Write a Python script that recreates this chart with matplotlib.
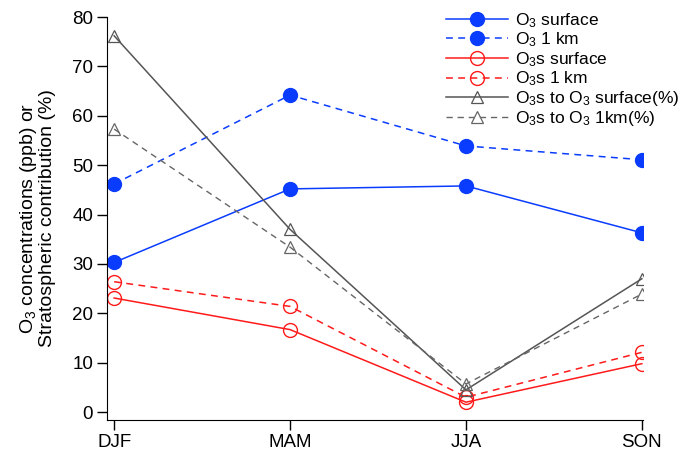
import numpy as np
import matplotlib
matplotlib.use("Agg")
import matplotlib.pyplot as plt

plt.rcParams['font.family'] = ['Liberation Sans', 'DejaVu Sans']
plt.rcParams['mathtext.fontset'] = 'custom'
plt.rcParams['mathtext.rm'] = 'Liberation Sans'
plt.rcParams['mathtext.it'] = 'Liberation Sans:italic'
plt.rcParams['lines.dashed_pattern'] = [4.5, 3.5]

seasons = ['DJF', 'MAM', 'JJA', 'SON']
o3_surface = [30.3, 45.2, 45.8, 36.3]
o3_1km = [46.2, 64.2, 53.9, 51.1]
o3s_surface = [23.1, 16.7, 2.0, 9.8]
o3s_1km = [26.4, 21.4, 3.0, 12.1]
ratio_surface = [76.2, 37.0, 4.5, 27.0]
ratio_1km = [57.3, 33.4, 5.7, 23.9]

blue = '#0a3cff'
red = '#ff1a1a'
fs = 13.5

fig = plt.figure(figsize=(6.78, 4.61), dpi=100)
ax = fig.add_axes([0.158, 0.089, 0.79, 0.874])
x = np.arange(len(seasons))

ax.plot(x, o3_surface, '-o', color=blue, lw=1.1, ms=10, label='O$_3$ surface')
ax.plot(x, o3_1km, '--o', color=blue, lw=1.1, ms=10, label='O$_3$ 1 km')
ax.plot(x, o3s_surface, '-o', color=red, lw=1.1, ms=10, mfc='none', mew=1.0,
        label='O$_3$s surface')
ax.plot(x, o3s_1km, '--o', color=red, lw=1.1, ms=10, mfc='none', mew=1.0,
        label='O$_3$s 1 km')
ax.plot(x, ratio_surface, '-^', color='#555555', lw=1.1, ms=9, mfc='none', mew=0.9,
        label='O$_3$s to O$_3$ surface(%)')
ax.plot(x, ratio_1km, '--^', color='#666666', lw=1.0, ms=9, mfc='none', mew=0.9,
        label='O$_3$s to O$_3$ 1km(%)')

ax.set_xlim(-0.04, 3.005)
ax.set_ylim(-1.6, 80)
ax.set_xticks(x)
ax.set_xticklabels(seasons)
ax.set_yticks(np.arange(0, 81, 10))
ax.tick_params(direction='out', length=7, width=1, labelsize=fs, pad=3)
ax.spines['top'].set_visible(False)
ax.spines['right'].set_visible(False)
ax.set_ylabel('O$_3$ concentrations (ppb) or\nStratospheric contribution (%)', fontsize=14,
              linespacing=1.0, labelpad=12)

fig.legend(loc='upper left', bbox_to_anchor=(446 / 678, 1 - 11 / 461), frameon=False,
           fontsize=12.5, handlelength=3.55, labelspacing=0.05, handletextpad=0.4,
           borderpad=0, borderaxespad=0)

fig.savefig('out.png', dpi=100)
